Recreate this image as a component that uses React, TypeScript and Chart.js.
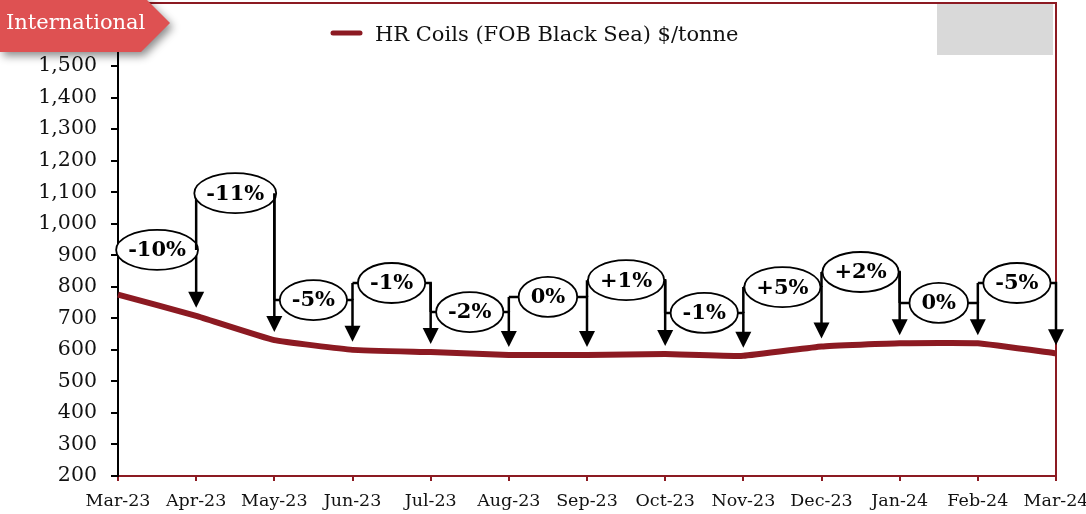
import React, { useEffect, useRef } from 'react';
import { Chart, registerables } from 'chart.js';

Chart.register(...registerables);

const categories = ['Mar-23', 'Apr-23', 'May-23', 'Jun-23', 'Jul-23', 'Aug-23', 'Sep-23', 'Oct-23', 'Nov-23', 'Dec-23', 'Jan-24', 'Feb-24', 'Mar-24'];
const priceValues = [775, 708, 631, 600, 593, 584, 584, 587, 581, 611, 621, 621, 589];
const changeLabels = ['-10%', '-11%', '-5%', '-1%', '-2%', '0%', '+1%', '-1%', '+5%', '+2%', '0%', '-5%'];
const calloutLevels = [917, 1097, 758, 812, 720, 768, 821, 717, 799, 847, 749, 812];
const yMin = 200;
const yMax = 1700;
const yStep = 100;
const yLabelMax = 1500;
const seriesLabel = 'HR Coils (FOB Black Sea) $/tonne';
const tagLabel = 'International';

const RED = '#8C1A22';
const SERIF = '"DejaVu Serif", Georgia, serif';

const overlayPlugin = {
  id: 'overlay',
  beforeDatasetsDraw(chart: any) {
    const { ctx, chartArea } = chart;
    const { left, right, top, bottom } = chartArea;
    ctx.save();
    ctx.strokeStyle = RED;
    ctx.lineWidth = 2;
    ctx.beginPath();
    ctx.moveTo(left, top);
    ctx.lineTo(right, top);
    ctx.lineTo(right, bottom);
    ctx.stroke();
    ctx.restore();
  },
  afterDatasetsDraw(chart: any) {
    const { ctx } = chart;
    const xs = chart.scales.x;
    const ys = chart.scales.y;
    ctx.save();
    ctx.font = 'bold 21px ' + SERIF;
    for (let k = 0; k < changeLabels.length; k++) {
      const x0 = xs.getPixelForValue(k);
      const x1 = xs.getPixelForValue(k + 1);
      const hy = ys.getPixelForValue(calloutLevels[k]);
      const tipY = ys.getPixelForValue(priceValues[k + 1]) - 8;
      ctx.lineWidth = 2.5;
      ctx.strokeStyle = '#000';
      ctx.lineCap = 'butt';
      ctx.beginPath();
      ctx.moveTo(x0, hy);
      ctx.lineTo(x1, hy);
      if (k > 0) {
        ctx.moveTo(x0, hy);
        ctx.lineTo(x0, ys.getPixelForValue(calloutLevels[k - 1]));
      }
      ctx.moveTo(x1, hy - 1.2);
      ctx.lineTo(x1, tipY - 12);
      ctx.stroke();
      ctx.beginPath();
      ctx.moveTo(x1 - 8, tipY - 16);
      ctx.lineTo(x1 + 8, tipY - 16);
      ctx.lineTo(x1, tipY);
      ctx.closePath();
      ctx.fillStyle = '#000';
      ctx.fill();
      const tw = ctx.measureText(changeLabels[k]).width;
      const rx = (tw + 24) / 2;
      const mx = (x0 + x1) / 2;
      ctx.beginPath();
      ctx.ellipse(mx, hy, rx, 20, 0, 0, Math.PI * 2);
      ctx.fillStyle = '#fff';
      ctx.fill();
      ctx.lineWidth = 1.8;
      ctx.stroke();
      ctx.fillStyle = '#000';
      ctx.textAlign = 'center';
      ctx.textBaseline = 'middle';
      ctx.fillText(changeLabels[k], mx, hy + 1);
    }
    ctx.restore();
  },
  afterDraw(chart: any) {
    const { ctx } = chart;
    ctx.save();
    ctx.fillStyle = '#D9D9D9';
    ctx.fillRect(937, 4, 116, 51);
    ctx.strokeStyle = RED;
    ctx.lineWidth = 5;
    ctx.lineCap = 'round';
    ctx.beginPath();
    ctx.moveTo(333, 33);
    ctx.lineTo(360, 33);
    ctx.stroke();
    ctx.fillStyle = '#111';
    ctx.font = '21px ' + SERIF;
    ctx.textAlign = 'left';
    ctx.textBaseline = 'middle';
    ctx.fillText(seriesLabel, 375, 36);
    ctx.save();
    ctx.shadowColor = 'rgba(0,0,0,0.45)';
    ctx.shadowBlur = 8;
    ctx.shadowOffsetX = 3;
    ctx.shadowOffsetY = 4;
    ctx.fillStyle = '#DE5152';
    ctx.beginPath();
    ctx.moveTo(0, -6);
    ctx.lineTo(141, -6);
    ctx.lineTo(170, 23);
    ctx.lineTo(141, 52);
    ctx.lineTo(0, 52);
    ctx.closePath();
    ctx.fill();
    ctx.restore();
    ctx.fillStyle = '#fff';
    ctx.font = '21px ' + SERIF;
    ctx.textAlign = 'left';
    ctx.textBaseline = 'middle';
    ctx.fillText(tagLabel, 6, 24);
    ctx.restore();
  },
};

export default function App() {
  const ref = useRef<HTMLCanvasElement | null>(null);
  useEffect(() => {
    document.body.style.margin = '0';
    if (!ref.current) return;
    const chart = new Chart(ref.current, {
      type: 'line',
      data: {
        labels: categories,
        datasets: [
          {
            label: seriesLabel,
            data: priceValues,
            borderColor: RED,
            backgroundColor: RED,
            borderWidth: 6,
            pointRadius: 0,
            tension: 0.1,
            borderJoinStyle: 'round',
          },
        ],
      },
      options: {
        responsive: false,
        animation: false,
        layout: { padding: { left: 0, top: 3, right: 30, bottom: 0 } },
        plugins: { legend: { display: false }, tooltip: { enabled: false } },
        scales: {
          x: {
            type: 'category',
            offset: false,
            grid: { display: true, drawOnChartArea: false, drawTicks: true, tickLength: 5, color: RED, lineWidth: 2, offset: false },
            border: { display: true, color: RED, width: 2 },
            ticks: { color: '#111', font: { family: SERIF, size: 17.5 }, padding: 10, maxRotation: 0, autoSkip: false },
            afterFit(scale: any) {
              scale.height = 38;
              scale.paddingLeft = 0;
              scale.paddingRight = 0;
            },
          },
          y: {
            min: yMin,
            max: yMax,
            grid: { display: true, drawOnChartArea: false, drawTicks: true, tickLength: 7, color: '#000', lineWidth: 2 },
            border: { display: true, color: '#000', width: 2 },
            ticks: {
              stepSize: yStep,
              color: '#111',
              font: { family: SERIF, size: 20.5 },
              padding: 14,
              callback: (v: any) => (Number(v) > yLabelMax ? '' : Number(v).toLocaleString('en-US')),
            },
            afterFit(scale: any) {
              scale.width = 118;
              scale.paddingTop = 0;
              scale.paddingBottom = 0;
            },
          },
        },
      },
      plugins: [overlayPlugin],
    } as any);
    return () => chart.destroy();
  }, []);
  return (
    <div style={{ width: 1086, height: 514 }}>
      <canvas ref={ref} width={1086} height={514} style={{ display: 'block' }} />
    </div>
  );
}
